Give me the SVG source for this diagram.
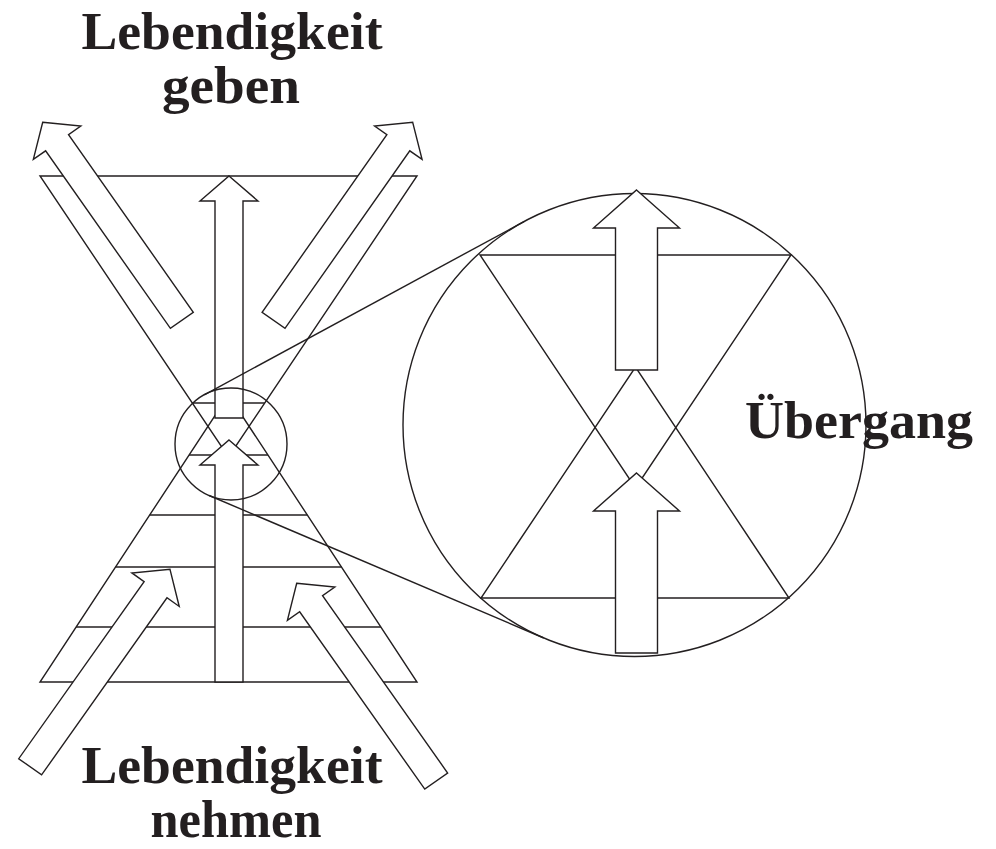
<svg xmlns="http://www.w3.org/2000/svg" xmlns:xlink="http://www.w3.org/1999/xlink" width="996" height="849" viewBox="0 0 996 849">
<style>
.ln{fill:none;stroke:#231f20;stroke-width:1.4;stroke-linejoin:miter}
.ar{fill:#ffffff;stroke:#231f20;stroke-width:1.4;stroke-linejoin:miter}
.lbl{font-family:"Liberation Serif","Times New Roman",serif;font-weight:bold;font-size:52px;fill:#231f20}
</style>
<defs>
<path id="arrowS" d="M0,0 L29,25 L14,25 L14,242 L-14,242 L-14,25 L-29,25 Z"/>
<path id="arrowL" d="M0,0 L43,38 L21,38 L21,180 L-21,180 L-21,38 L-43,38 Z"/>
</defs>
<rect width="996" height="849" fill="#ffffff"/>

<g id="hourglass">
<polygon class="ln" points="40,176 417,176 228.5,457"/>
<polygon class="ln" points="40,682 417,682 228.5,395"/>
<line class="ln" x1="192.3" y1="403" x2="264.7" y2="403"/>
<line class="ln" x1="189.1" y1="455" x2="267.9" y2="455"/>
<line class="ln" x1="149.7" y1="515" x2="307.3" y2="515"/>
<line class="ln" x1="115.5" y1="567" x2="341.5" y2="567"/>
<line class="ln" x1="76.1" y1="627" x2="380.9" y2="627"/>
</g>

<g id="arrows-left">
<use href="#arrowS" class="ar" transform="translate(229,176)"/>
<use href="#arrowS" class="ar" transform="translate(229,440)"/>
<use href="#arrowS" class="ar" transform="translate(42.7,122.3) rotate(-35.1)"/>
<use href="#arrowS" class="ar" transform="translate(412.7,122.3) rotate(35.1)"/>
<use href="#arrowS" class="ar" transform="translate(170,569.3) rotate(35.3)"/>
<use href="#arrowS" class="ar" transform="translate(296.7,583.3) rotate(-35.2)"/>
</g>

<g id="small-circle">
<circle class="ln" cx="231" cy="444" r="56"/>
</g>

<g id="detail">
<circle class="ln" cx="634.5" cy="425" r="231.5"/>
<polygon class="ln" points="480,255 791,255 635.5,488"/>
<polygon class="ln" points="481,598 789,598 635.5,367"/>
<use href="#arrowL" class="ar" transform="translate(636.5,190)"/>
<use href="#arrowL" class="ar" transform="translate(636.5,473)"/>
</g>

<g id="connectors">
<line class="ln" x1="204.3" y1="394.8" x2="524.2" y2="221.5"/>
<line class="ln" x1="209.1" y1="495.5" x2="543.8" y2="638"/>
</g>

<g id="labels">
<text class="lbl" x="232" y="49" text-anchor="middle" textLength="301" lengthAdjust="spacingAndGlyphs">Lebendigkeit</text>
<text class="lbl" x="231" y="103" text-anchor="middle" textLength="138" lengthAdjust="spacingAndGlyphs">geben</text>
<text class="lbl" x="232" y="783" text-anchor="middle" textLength="301" lengthAdjust="spacingAndGlyphs">Lebendigkeit</text>
<text class="lbl" x="236" y="837" text-anchor="middle" textLength="171" lengthAdjust="spacingAndGlyphs">nehmen</text>
<text class="lbl" x="745" y="438" textLength="228" lengthAdjust="spacingAndGlyphs">Übergang</text>
</g>
</svg>
